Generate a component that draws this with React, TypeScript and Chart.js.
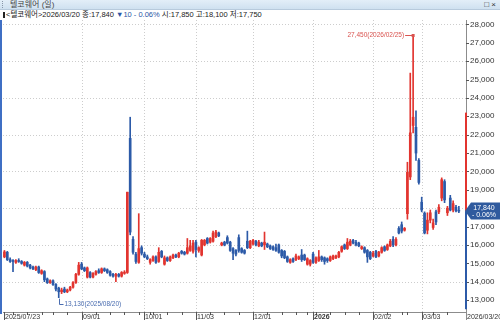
import React, { useEffect, useRef } from 'react';
import { Chart, registerables } from 'chart.js';

Chart.register(...registerables);

const FONT = '"Liberation Sans", "Noto Sans CJK KR", sans-serif';

// trading days shown (month -> days)
const TRADING_DAYS: [string, number[]][] = [
  ['2025/07', [23, 24, 25, 28, 29, 30, 31]],
  ['2025/08', [1, 4, 5, 6, 7, 8, 11, 12, 13, 14, 18, 19, 20, 21, 22, 25, 26, 27, 28, 29]],
  ['2025/09', [1, 2, 3, 4, 5, 8, 9, 10, 11, 12, 15, 16, 17, 18, 19, 22, 23, 24, 25, 26, 29, 30]],
  ['2025/10', [1, 2, 10, 13, 14, 15, 16, 17, 20, 21, 22, 23, 24, 27, 28, 29, 30, 31]],
  ['2025/11', [3, 4, 5, 6, 7, 10, 11, 12, 13, 14, 17, 18, 19, 20, 21, 24, 25, 26, 27, 28]],
  ['2025/12', [1, 2, 3, 4, 5, 8, 9, 10, 11, 12, 15, 16, 17, 18, 19, 22, 23, 24, 26, 29, 30]],
  ['2026/01', [2, 5, 6, 7, 8, 9, 12, 13, 14, 15, 16, 19, 20, 21, 22, 23, 26, 27, 28, 29, 30]],
  ['2026/02', [2, 3, 4, 5, 6, 9, 10, 11, 12, 13, 19, 20, 23, 24, 25, 26, 27]],
  ['2026/03', [3, 4, 5, 6, 9, 10, 11, 12, 13, 16, 17, 18, 19, 20]],
];
const DATES: string[] = TRADING_DAYS.flatMap(([m, ds]) => ds.map((d) => `${m}/${String(d).padStart(2, '0')}`));

const OPEN = [
  15350, 15600, 15200, 15150, 15050, 15150, 15100, 14900, 15050, 14900,
  14800, 14650, 14800, 14450, 14550, 14150, 13950, 14050, 13850, 13650,
  13450, 13600, 13450, 13550, 13700, 13950, 14400, 14950, 14750, 14250,
  14500, 14250, 14400, 14600, 14500, 14700, 14650, 14550, 14400, 14300,
  14400, 14300, 14450, 14500, 21800, 16300, 15500, 15050, 15850, 15500,
  15350, 15050, 15150, 15350, 15100, 15650, 14950, 15300, 15150, 15300,
  15450, 15350, 15650, 15600, 15550, 15700, 15650, 16150, 15700, 15450,
  16000, 16350, 16150, 16200, 16450, 16650, 16000, 16150, 16400, 16150,
  15800, 15700, 16400, 15800, 15700, 16200, 15850, 16050, 16200, 15950,
  16100, 16000, 16050, 15950, 15900, 15850, 16000, 15700, 15650, 15350,
  15050, 15250, 15200, 15250, 15450, 15450, 14950, 14950, 15500, 15050,
  15150, 15350, 15300, 15250, 15150, 15250, 15300, 15350, 15650, 16000,
  15800, 16000, 16250, 16150, 16100, 15800, 15850, 15700, 15600, 15400,
  15650, 15400, 15600, 15900, 15750, 15950, 16300, 16000, 16900, 17100,
  16800, 17700, 19700, 22500, 22400, 20600, 18330, 17730, 16800, 17350,
  16950, 17800, 17800, 18550, 19450, 17750, 18550, 17900, 18050, 17850,
];
const HIGH = [
  15700, 15650, 15300, 15200, 15200, 15250, 15150, 15100, 15100, 14950,
  14850, 14850, 14850, 14650, 14600, 14200, 14100, 14100, 13900, 13700,
  13650, 13700, 13600, 13750, 14000, 14450, 15050, 15050, 14800, 14800,
  14550, 14500, 14600, 14700, 14750, 14750, 14700, 14600, 14450, 14450,
  14450, 14550, 14600, 18870, 22950, 16450, 15600, 17700, 15950, 15600,
  15450, 15250, 15400, 15400, 15850, 15700, 15400, 15350, 15400, 15500,
  15500, 15600, 15700, 15650, 16350, 16250, 16250, 16250, 15900, 16300,
  16300, 16400, 16400, 16750, 16800, 16700, 16150, 16200, 16500, 16200,
  15850, 15750, 16550, 15850, 15750, 16750, 16250, 16300, 16250, 16250,
  16150, 16700, 16100, 16000, 15950, 16050, 16050, 15750, 15700, 15400,
  15250, 15300, 15500, 15400, 15750, 15500, 15300, 15200, 15600, 15350,
  15700, 15400, 15350, 15300, 15400, 15450, 15450, 15650, 15950, 16050,
  16350, 16300, 16300, 16250, 16150, 15950, 15900, 15750, 15650, 15650,
  15700, 15650, 15900, 15950, 16050, 16300, 16450, 16400, 17000, 17250,
  16950, 20500, 25350, 27450, 23300, 20700, 18600, 17800, 17750, 17900,
  17400, 17900, 18200, 19650, 19550, 18100, 18700, 18400, 18150, 18100,
];
const LOW = [
  15300, 15150, 15050, 14550, 15000, 15050, 14950, 14850, 14800, 14700,
  14650, 14600, 14450, 14400, 14000, 13900, 13900, 13800, 13500, 13130,
  13350, 13400, 13400, 13500, 13650, 13900, 14350, 14650, 14550, 14200,
  14200, 14200, 14350, 14450, 14450, 14550, 14450, 14300, 14250, 14000,
  14250, 14250, 14400, 14450, 16550, 15500, 15000, 15000, 15450, 15300,
  15200, 14950, 15100, 15000, 15050, 15300, 14900, 15100, 15100, 15250,
  15300, 15300, 15500, 15450, 15500, 15650, 15550, 15350, 15600, 15400,
  15950, 16050, 16100, 16150, 16400, 16450, 15950, 15950, 16050, 15650,
  15200, 15400, 15600, 15550, 15500, 15800, 15800, 16000, 15950, 15900,
  15900, 15750, 15850, 15750, 15700, 15650, 15550, 15300, 15250, 15050,
  15000, 15050, 15150, 15200, 15100, 15150, 14900, 14850, 15000, 15000,
  15100, 15100, 14950, 15050, 15100, 15200, 15250, 15300, 15600, 15750,
  15750, 15950, 16050, 15950, 15900, 15750, 15550, 15050, 15200, 15350,
  15300, 15350, 15550, 15650, 15700, 15900, 15900, 15950, 16600, 16650,
  16750, 17400, 19550, 22100, 20600, 19300, 17800, 16600, 16600, 17200,
  16850, 17100, 17700, 18400, 18300, 17600, 17850, 17800, 17800, 17750,
];
const CLOSE = [
  15620, 15200, 15100, 15100, 15150, 15100, 15000, 15050, 14850, 14750,
  14700, 14800, 14500, 14600, 14100, 13950, 14050, 13850, 13600, 13450,
  13550, 13450, 13550, 13700, 13950, 14400, 14900, 14700, 14600, 14750,
  14250, 14450, 14550, 14500, 14700, 14600, 14500, 14350, 14300, 14400,
  14300, 14500, 14520, 18870, 16700, 15600, 15100, 15800, 15550, 15350,
  15250, 15200, 15350, 15050, 15600, 15350, 15300, 15150, 15350, 15450,
  15350, 15550, 15550, 15500, 15850, 15950, 16100, 15750, 15850, 16250,
  16250, 16100, 16350, 16650, 16700, 16500, 16100, 16000, 16100, 15700,
  15550, 15500, 15700, 15600, 15550, 15850, 16200, 16250, 16000, 16150,
  15950, 16150, 15900, 15800, 15750, 15700, 15600, 15400, 15300, 15100,
  15200, 15100, 15400, 15350, 15200, 15200, 15250, 15150, 15050, 15300,
  15350, 15200, 15100, 15150, 15350, 15400, 15400, 15600, 15900, 15800,
  16150, 16200, 16100, 16000, 15950, 15900, 15600, 15350, 15250, 15550,
  15350, 15600, 15850, 15700, 16000, 16200, 16000, 16300, 16650, 16750,
  16900, 19950, 22100, 22950, 21000, 19400, 17900, 16650, 17350, 17750,
  17200, 17250, 18050, 19550, 18450, 18000, 17900, 18250, 17850, 17840,
];

const STOCK_NAME = '텔코웨어';
const PERIOD = '(일)';
const Y_TICKS = [13000, 14000, 15000, 16000, 17000, 18000, 19000, 20000, 21000, 22000, 23000, 24000, 25000, 26000, 27000, 28000];
const GRID_PRICES = [14000, 16000, 18000, 20000, 22000, 24000, 26000, 28000];
const X_TICK_DATES = ['2025/07/23', '2025/09/01', '2025/10/01', '2025/11/03', '2025/12/01', '2026/01/02', '2026/02/02', '2026/03/03'];
const X_TICK_LABELS = ['2025/07/23', '09/01', '10/01', '11/03', '12/01', '2026', '02/02', '03/03'];
const BOLD_TICK = '2026';
const UPPER_LIMIT = 23200;
const LOWER_LIMIT = 12500;
const Y_MIN = 12350;
const Y_MAX = 28240;

const UP = '#e2342f';
const DOWN = '#2c5aa8';

const fmt = (v: number) => v.toLocaleString('en-US');

export default function App() {
  const ref = useRef<HTMLCanvasElement | null>(null);
  const n = DATES.length;
  const last = n - 1;
  const prevClose = CLOSE[last - 1];
  const change = CLOSE[last] - prevClose;
  const pct = (change / prevClose) * 100;
  const pctText = `${change < 0 ? '-' : '+'} ${Math.abs(pct).toFixed(2)}%`;

  useEffect(() => {
    const canvas = ref.current;
    if (!canvas) return;
    const idx = DATES.map((_, i) => i);
    const colors = idx.map((i) => (CLOSE[i] >= OPEN[i] ? UP : DOWN));
    const tickIdx = X_TICK_DATES.map((d) => DATES.indexOf(d));
    const hiIdx = HIGH.indexOf(Math.max(...HIGH));
    const loIdx = LOW.indexOf(Math.min(...LOW));
    const toTime = (s: string) => {
      const [yy, mm, dd] = s.split('/').map(Number);
      return new Date(yy, mm - 1, dd);
    };
    const weekStarts = idx.filter((i) => {
      if (i === 0) return false;
      const a = toTime(DATES[i - 1]);
      const b = toTime(DATES[i]);
      return b.getDay() < a.getDay() || b.getTime() - a.getTime() > 6 * 864e5;
    });

    const hts = {
      id: 'hts',
      beforeDatasetsDraw(chart: any) {
        const { ctx, chartArea: a, scales } = chart;
        const x = scales.x;
        const y = scales.y;
        ctx.save();
        ctx.lineWidth = 1;
        ctx.strokeStyle = '#cdcdcd';
        ctx.setLineDash([1, 2]);
        GRID_PRICES.forEach((p) => {
          const py = Math.round(y.getPixelForValue(p)) + 0.5;
          ctx.beginPath();
          ctx.moveTo(a.left, py);
          ctx.lineTo(a.right, py);
          ctx.stroke();
        });
        tickIdx.slice(1).forEach((i) => {
          const px = Math.round(x.getPixelForValue(i)) + 0.5;
          ctx.beginPath();
          ctx.moveTo(px, a.top);
          ctx.lineTo(px, a.bottom);
          ctx.stroke();
        });
        ctx.setLineDash([]);
        ctx.strokeStyle = '#8c8c8c';
        ctx.beginPath();
        ctx.moveTo(a.left, Math.round(a.bottom) + 0.5);
        ctx.lineTo(a.right, Math.round(a.bottom) + 0.5);
        ctx.moveTo(Math.round(a.right) + 0.5, a.top);
        ctx.lineTo(Math.round(a.right) + 0.5, a.bottom + 8);
        ctx.stroke();
        ctx.strokeStyle = '#555';
        ctx.beginPath();
        Y_TICKS.forEach((p) => {
          const py = Math.round(y.getPixelForValue(p)) + 0.5;
          ctx.moveTo(a.right, py);
          ctx.lineTo(a.right + 3, py);
        });
        tickIdx.forEach((i) => {
          const px = Math.round(x.getPixelForValue(i)) + 0.5;
          ctx.moveTo(px, a.bottom);
          ctx.lineTo(px, a.bottom + 8);
        });
        weekStarts.forEach((i) => {
          if (tickIdx.includes(i)) return;
          const px = Math.round(x.getPixelForValue(i)) + 0.5;
          ctx.moveTo(px, a.bottom);
          ctx.lineTo(px, a.bottom + 3);
        });
        ctx.stroke();
        // axis labels
        ctx.fillStyle = '#333';
        ctx.font = `8px ${FONT}`;
        ctx.textAlign = 'left';
        ctx.textBaseline = 'middle';
        Y_TICKS.forEach((p) => {
          ctx.fillText(fmt(p), a.right + 4, y.getPixelForValue(p));
        });
        ctx.textBaseline = 'top';
        tickIdx.forEach((i, k) => {
          const label = X_TICK_LABELS[k];
          ctx.font = `${label === BOLD_TICK ? 'bold ' : ''}7px ${FONT}`;
          ctx.fillText(label, Math.round(x.getPixelForValue(i)) + 1, a.bottom + 2);
        });
        ctx.font = `7px ${FONT}`;
        ctx.fillText(DATES[last], a.right + 1, a.bottom + 2);
        ctx.restore();
      },
      afterDatasetsDraw(chart: any) {
        const { ctx, chartArea: a, scales } = chart;
        const x = scales.x;
        const y = scales.y;
        ctx.save();
        const py = y.getPixelForValue(CLOSE[last]);
        // limit range bar on the axis
        const up = y.getPixelForValue(UPPER_LIMIT);
        const lo = Math.min(y.getPixelForValue(LOWER_LIMIT), a.bottom);
        ctx.fillStyle = UP;
        ctx.fillRect(a.right - 1, up, 2, py - up);
        ctx.fillStyle = DOWN;
        ctx.fillRect(a.right - 1, py, 2, lo - py);
        // price box
        ctx.fillStyle = '#2f5a9e';
        ctx.beginPath();
        ctx.moveTo(a.right - 1, py);
        ctx.lineTo(a.right + 5, py - 8.5);
        ctx.lineTo(500, py - 8.5);
        ctx.lineTo(500, py + 8.5);
        ctx.lineTo(a.right + 5, py + 8.5);
        ctx.closePath();
        ctx.fill();
        ctx.fillStyle = '#ffffff';
        ctx.font = `7px ${FONT}`;
        ctx.textAlign = 'center';
        ctx.textBaseline = 'middle';
        ctx.fillText(fmt(CLOSE[last]), 484, py - 3.5);
        ctx.fillText(pctText, 484, py + 4);
        // high annotation
        const hx = x.getPixelForValue(hiIdx);
        const hy = Math.round(y.getPixelForValue(HIGH[hiIdx])) + 0.5;
        ctx.strokeStyle = '#d9534f';
        ctx.fillStyle = '#d9534f';
        ctx.lineWidth = 1;
        ctx.beginPath();
        ctx.moveTo(hx, hy);
        ctx.lineTo(hx - 8, hy);
        ctx.stroke();
        ctx.fillRect(hx - 1.5, hy - 1.5, 3, 3);
        ctx.textAlign = 'right';
        ctx.font = `6.5px ${FONT}`;
        ctx.fillText(`${fmt(HIGH[hiIdx])}(${DATES[hiIdx]})`, hx - 9, hy);
        // low annotation
        const lx = Math.round(x.getPixelForValue(loIdx)) + 0.5;
        const ly = y.getPixelForValue(LOW[loIdx]);
        const ay = Math.round(a.bottom - 8) + 0.5;
        ctx.strokeStyle = '#4a6db0';
        ctx.fillStyle = '#4a6db0';
        ctx.beginPath();
        ctx.moveTo(lx, ly + 1);
        ctx.lineTo(lx, ay);
        ctx.lineTo(lx + 4, ay);
        ctx.stroke();
        ctx.textAlign = 'left';
        ctx.fillText(`${fmt(LOW[loIdx])}(${DATES[loIdx]})`, lx + 5, ay);
        ctx.restore();
      },
    };

    const chart = new Chart(canvas, {
      type: 'bar',
      data: {
        datasets: [
          {
            data: idx.map((i) => ({ x: i, y: [LOW[i], HIGH[i]] })) as any,
            backgroundColor: colors,
            barThickness: 1,
            grouped: false,
            order: 2,
          },
          {
            data: idx.map((i) => ({ x: i, y: [OPEN[i], CLOSE[i]] })) as any,
            backgroundColor: colors,
            barThickness: 2,
            minBarLength: 1,
            grouped: false,
            order: 1,
          },
        ],
      },
      options: {
        responsive: false,
        animation: false,
        events: [],
        layout: { padding: { left: 3, right: 34, top: 0, bottom: 12 } },
        plugins: { legend: { display: false }, tooltip: { enabled: false } },
        scales: {
          x: {
            type: 'linear',
            display: false,
            offset: false,
            min: -0.5,
            max: n + 1.5,
          } as any,
          y: {
            type: 'linear',
            display: false,
            min: Y_MIN,
            max: Y_MAX,
          } as any,
        },
      },
      plugins: [hts as any],
    });
    return () => chart.destroy();
  }, []);

  return (
    <div style={{ position: 'fixed', left: 0, top: 0, width: 500, height: 324, background: '#fff', overflow: 'hidden', fontFamily: FONT }}>
      <div style={{ position: 'absolute', left: 0, top: 0, width: 500, height: 9, background: 'linear-gradient(#e3eef8, #cfe1f0)', borderBottom: '1px solid #b7cadc' }}>
        <span style={{ position: 'absolute', left: 2, top: 1, height: 7, borderLeft: '1px dotted #8896a8' }} />
        <span style={{ position: 'absolute', left: 10, top: 0, fontSize: 8, lineHeight: '9px', color: '#444', whiteSpace: 'nowrap' }}>{`${STOCK_NAME} ${PERIOD}`}</span>
        <span style={{ position: 'absolute', right: 4, top: 0, fontSize: 8, lineHeight: '9px', color: '#333' }}>□ ×</span>
      </div>
      <div style={{ position: 'absolute', left: 3, top: 10, height: 10, fontSize: 7.5, lineHeight: '10px', color: '#222', whiteSpace: 'nowrap' }}>
        <span style={{ display: 'inline-block', width: 2, height: 6, background: '#222', marginRight: 1, verticalAlign: 'middle' }} />
        {`<${STOCK_NAME}>${DATES[last]} 종:${fmt(CLOSE[last])} `}
        <span style={{ color: '#2b55a5' }}>{`${change < 0 ? '▼' : '▲'}${Math.abs(change)} ${pctText}`}</span>
        {` 시:${fmt(OPEN[last])} 고:${fmt(HIGH[last])} 저:${fmt(LOW[last])}`}
      </div>
      <canvas ref={ref} width={500} height={304} style={{ position: 'absolute', left: 0, top: 20, width: 500, height: 304 }} />
      <div style={{ position: 'absolute', left: 0, top: 20, width: 2, height: 294, background: '#3f6fc4' }} />
    </div>
  );
}
